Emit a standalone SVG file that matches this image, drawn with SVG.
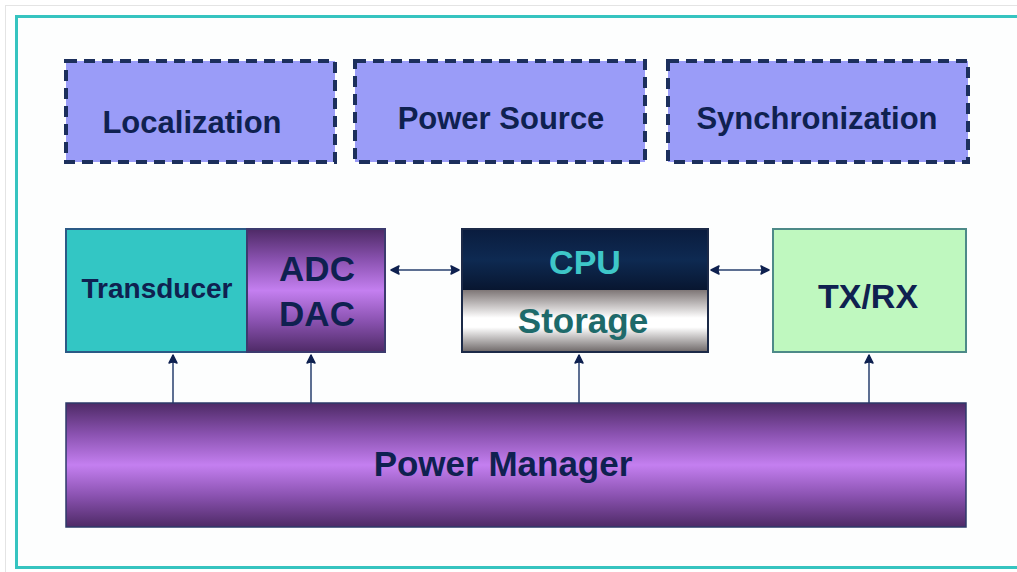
<svg xmlns="http://www.w3.org/2000/svg" width="1017" height="572" viewBox="0 0 1017 572">
<defs>
<style>
.t{font-family:"Liberation Sans",Arial,sans-serif;font-weight:bold;text-anchor:middle}
.dash{fill:#9a9cf8;stroke:#1c2f5c;stroke-width:4;stroke-dasharray:11,7}
.nav{fill:#0f2150}
.con{stroke:#5d6f92;stroke-width:2;fill:none}
</style>
<linearGradient id="purp" x1="0" y1="0" x2="0" y2="1">
<stop offset="0" stop-color="#4e2a66"/>
<stop offset="0.25" stop-color="#8a52b0"/>
<stop offset="0.5" stop-color="#c47ff0"/>
<stop offset="0.75" stop-color="#8a52b0"/>
<stop offset="1" stop-color="#4e2a66"/>
</linearGradient>
<linearGradient id="cpu" x1="0" y1="0" x2="0" y2="1">
<stop offset="0" stop-color="#0a1c3e"/>
<stop offset="0.5" stop-color="#0e2a52"/>
<stop offset="1" stop-color="#081630"/>
</linearGradient>
<linearGradient id="stor" x1="0" y1="0" x2="0" y2="1">
<stop offset="0" stop-color="#7e7676"/>
<stop offset="0.45" stop-color="#ffffff"/>
<stop offset="0.6" stop-color="#ffffff"/>
<stop offset="1" stop-color="#6e6868"/>
</linearGradient>
<marker id="ah" viewBox="0 0 10 10" refX="9" refY="5" markerWidth="5" markerHeight="5" orient="auto-start-reverse">
<path d="M1,1 L9,5 L1,9 Q3,5 1,1 Z" fill="#0f2150" stroke="#0f2150" stroke-width="1.5" stroke-linejoin="round"/>
</marker>
</defs>
<rect x="0" y="0" width="1017" height="572" fill="#ffffff"/>
<rect x="5.5" y="5.5" width="1030" height="580" fill="none" stroke="#e4e4e4" stroke-width="1"/>
<rect x="16.5" y="16.5" width="1020" height="551" fill="#fdfefe" stroke="#36c4c0" stroke-width="3"/>

<g id="connectors">
<line class="con" x1="391" y1="270" x2="459" y2="270" marker-start="url(#ah)" marker-end="url(#ah)"/>
<line class="con" x1="711" y1="270" x2="769" y2="270" marker-start="url(#ah)" marker-end="url(#ah)"/>
<line class="con" x1="173" y1="403" x2="173" y2="355" marker-end="url(#ah)"/>
<line class="con" x1="311" y1="403" x2="311" y2="355" marker-end="url(#ah)"/>
<line class="con" x1="579" y1="403" x2="579" y2="355" marker-end="url(#ah)"/>
<line class="con" x1="869" y1="403" x2="869" y2="355" marker-end="url(#ah)"/>
</g>

<g id="localization">
<rect class="dash" x="66" y="61" width="269" height="101"/>
<text class="t nav" x="192" y="133" font-size="31">Localization</text>
</g>
<g id="power-source">
<rect class="dash" x="355" y="61" width="290" height="101"/>
<text class="t nav" x="501" y="129" font-size="31">Power Source</text>
</g>
<g id="synchronization">
<rect class="dash" x="668" y="61" width="300" height="101"/>
<text class="t nav" x="817" y="129" font-size="31">Synchronization</text>
</g>

<g id="transducer">
<rect x="66" y="229" width="181" height="123" fill="#33c6c4" stroke="#2b5a86" stroke-width="2"/>
<text class="t nav" x="157" y="298" font-size="28">Transducer</text>
</g>
<g id="adc-dac">
<rect x="247" y="229" width="138" height="123" fill="url(#purp)" stroke="#3c3a6e" stroke-width="2"/>
<text class="t nav" x="317" y="281" font-size="35">ADC</text>
<text class="t nav" x="317" y="326" font-size="35">DAC</text>
</g>
<g id="cpu-storage">
<rect x="462" y="229" width="246" height="61" fill="url(#cpu)"/>
<rect x="462" y="290" width="246" height="62" fill="url(#stor)"/>
<rect x="462" y="229" width="246" height="123" fill="none" stroke="#1c2a48" stroke-width="2"/>
<text class="t" x="585" y="274" font-size="34" fill="#3ec6c8">CPU</text>
<text class="t" x="583" y="333" font-size="35" fill="#1e6a6a">Storage</text>
</g>
<g id="txrx">
<rect x="773" y="229" width="193" height="123" fill="#bff8bf" stroke="#4d8a88" stroke-width="2"/>
<text class="t nav" x="868" y="308" font-size="34">TX/RX</text>
</g>
<g id="power-manager">
<rect x="66" y="403" width="900" height="124" fill="url(#purp)" stroke="#2e3a6a" stroke-width="1.5"/>
<text class="t nav" x="503" y="476" font-size="35">Power Manager</text>
</g>
</svg>
